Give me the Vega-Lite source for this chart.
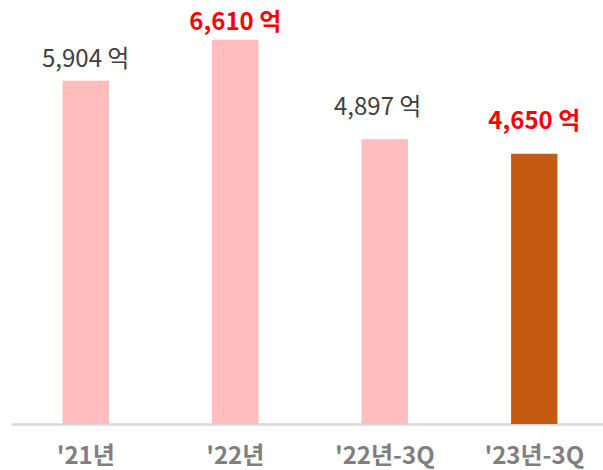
{
  "$schema": "https://vega.github.io/schema/vega-lite/v6.json",
  "autosize": {"type": "none"},
  "width": 598,
  "height": 407,
  "padding": {"left": 11, "top": 17, "right": 0, "bottom": 46},
  "background": "white",
  "config": {"view": {"stroke": null}, "font": "Noto Sans CJK KR"},
  "data": {
    "values": [
      {"period": "'21년", "value": 5904},
      {"period": "'22년", "value": 6610},
      {"period": "'22년-3Q", "value": 4897},
      {"period": "'23년-3Q", "value": 4650}
    ]
  },
  "transform": [
    {"calculate": "format(datum.value, ',') + ' 억'", "as": "label"}
  ],
  "encoding": {
    "x": {
      "field": "period",
      "type": "nominal",
      "sort": null,
      "scale": {"paddingInner": 0.69, "paddingOuter": 0.345},
      "axis": {
        "title": null,
        "labelAngle": 0,
        "ticks": false,
        "labelPadding": 20,
        "labelFontSize": 24,
        "labelFontWeight": "bold",
        "labelColor": "#7F7F7F",
        "domainColor": "#D9D9D9",
        "domainWidth": 2.5
      }
    },
    "y": {
      "field": "value",
      "type": "quantitative",
      "scale": {"domain": [0, 7000], "nice": false},
      "axis": null
    }
  },
  "layer": [
    {
      "mark": {"type": "bar"},
      "encoding": {
        "color": {
          "field": "period",
          "type": "nominal",
          "scale": {
            "domain": ["'21년", "'22년", "'22년-3Q", "'23년-3Q"],
            "range": ["#FFBDBD", "#FFBDBD", "#FFBDBD", "#C55A11"]
          },
          "legend": null
        }
      }
    },
    {
      "transform": [{"filter": "datum.period === \"'21년\""}],
      "mark": {"type": "text", "baseline": "alphabetic", "dy": -14, "fontSize": 24, "color": "#404040"},
      "encoding": {"text": {"field": "label"}}
    },
    {
      "transform": [{"filter": "datum.period === \"'22년\""}],
      "mark": {"type": "text", "baseline": "alphabetic", "dy": -10, "fontSize": 24, "fontWeight": "bold", "color": "#FF0000"},
      "encoding": {"text": {"field": "label"}}
    },
    {
      "transform": [{"filter": "datum.period === \"'22년-3Q\""}],
      "mark": {"type": "text", "baseline": "alphabetic", "dy": -24, "dx": -7, "fontSize": 24, "color": "#404040"},
      "encoding": {"text": {"field": "label"}}
    },
    {
      "transform": [{"filter": "datum.period === \"'23년-3Q\""}],
      "mark": {"type": "text", "baseline": "alphabetic", "dy": -25, "fontSize": 24, "fontWeight": "bold", "color": "#FF0000"},
      "encoding": {"text": {"field": "label"}}
    }
  ]
}
